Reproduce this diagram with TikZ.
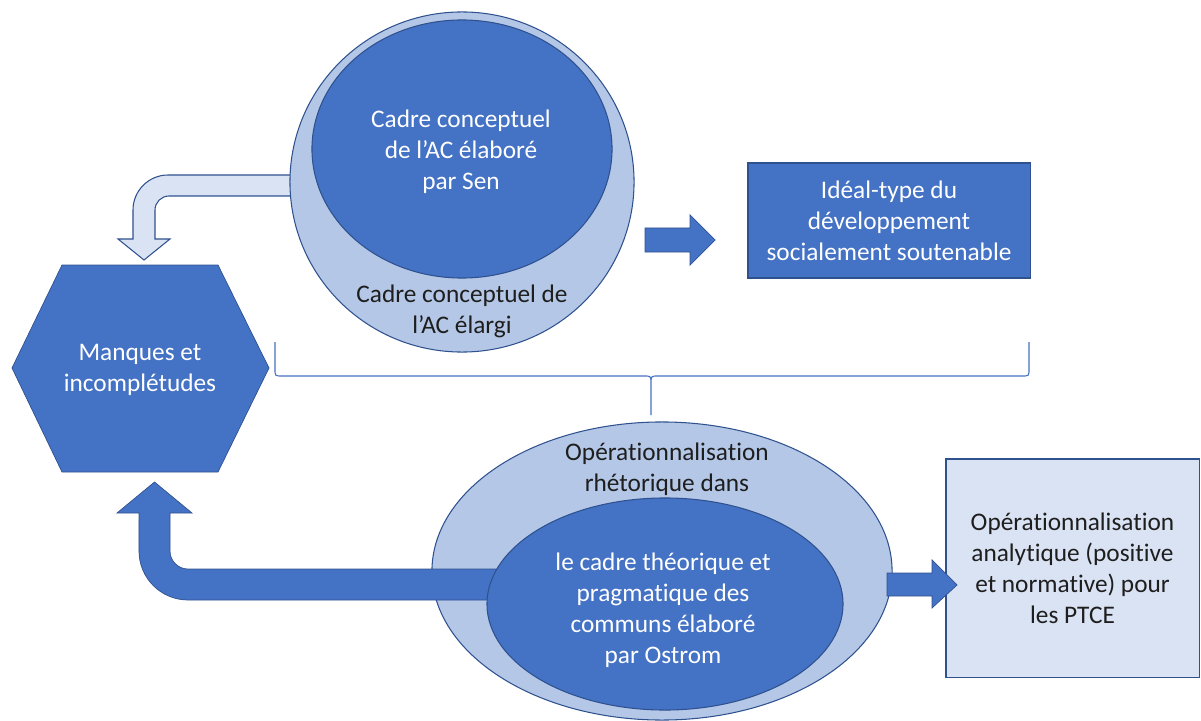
\documentclass[tikz,border=0pt]{standalone}
\usepackage{fontspec}
\setmainfont{Carlito}[Ligatures=NoCommon,Contextuals=NoAlternate]
\usetikzlibrary{shapes.geometric,positioning,calc}

\definecolor{accblue}{HTML}{4472C4}
\definecolor{lightblue}{HTML}{B4C7E7}
\definecolor{paleblue}{HTML}{DAE3F3}
\definecolor{edgeblue}{HTML}{2F528F}
\definecolor{inkdark}{HTML}{1E1E1E}

\begin{document}
\begin{tikzpicture}[x=0.025cm,y=-0.025cm,
    font=\fontsize{18}{22}\selectfont, line width=0.75pt,
    outerblob/.style={ellipse, draw=edgeblue, fill=lightblue, inner sep=0pt},
    innerblob/.style={ellipse, draw=edgeblue, fill=accblue, inner sep=0pt},
    whitetext/.style={align=center, text=white},
    darkbox/.style={rectangle, draw=edgeblue, fill=accblue, text=white, align=center},
    palebox/.style={rectangle, draw=edgeblue, fill=paleblue, text=inkdark, align=center},
    label/.style={align=center, text=inkdark},
    bigarrow/.style={fill=accblue, draw=edgeblue, line width=0.5pt},
    softarrow/.style={fill=paleblue, draw=edgeblue, line width=0.75pt},
    bracket/.style={draw=accblue, line width=0.8pt}]
  \useasboundingbox (0,0) rectangle (1201,721);

  % feedback from Sen to the gaps
  \draw[softarrow] (300,175) -- (168,175) arc[start angle=90,end angle=180,radius=0.875cm]
    -- (133,239) -- (118,239) -- (144,260) -- (170,239) -- (155,239) -- (155,210)
    arc[start angle=180,end angle=90,radius=0.35cm] -- (300,196) -- cycle;

  % capability approach, top
  \node[outerblob, minimum width=8.6cm, minimum height=8.5cm] (sen_out) at (462,182) {};
  \node[innerblob, minimum width=7.5cm, minimum height=6.45cm] (sen_in) at (462,149) {};
  \node[whitetext] (sen_txt_in) at (461,152) {Cadre conceptuel\\de l’AC élaboré\\par Sen};
  \node[label] (sen_txt) at (462,311) {Cadre conceptuel de\\l’AC élargi};

  \node[darkbox, minimum width=7.05cm, minimum height=2.875cm] (ideal) at (889,220.5)
    {Idéal-type du\\développement\\socialement soutenable};
  \draw[bigarrow] (645,228) -- (690,228) -- (690,215) -- (715,240) -- (690,265)
    -- (690,252) -- (645,252) -- cycle;

  % gaps
  \draw[fill=accblue, draw=edgeblue, line width=0.5pt]
    (12,368) -- (62,265) -- (218,265) -- (269,368) -- (218,472) -- (62,472) -- cycle;
  \node[whitetext] (gaps) at (140,370) {Manques et\\incomplétudes};

  % brace
  \coordinate (br_l) at (275,342);
  \coordinate (br_r) at (1029,342);
  \coordinate (br_tip) at (651,415);
  \draw[bracket] (br_l) -- (275,369) .. controls (275,376) .. (282,376) -- (644,376)
    .. controls (651,376) .. (651,384) -- (br_tip)
    (651,384) .. controls (651,376) .. (658,376) -- (1022,376)
    .. controls (1029,376) .. (1029,369) -- (br_r);

  % commons, bottom
  \node[outerblob, minimum width=11.5cm, minimum height=7.45cm] (ost_out) at (662,571) {};
  \node[label] (ost_txt) at (667,469) {Opérationnalisation\\rhétorique dans};
  \draw[bigarrow] (520,600) -- (188,600) arc[start angle=270,end angle=180,radius=1.225cm]
    -- (139,513) -- (117,513) -- (154.5,482) -- (192,513) -- (170,513) -- (170,551)
    arc[start angle=180,end angle=270,radius=0.45cm] -- (520,569) -- cycle;
  \node[innerblob, minimum width=8.9cm, minimum height=5.3cm] (ost_in) at (665,604) {};
  \node[whitetext] (ost_txt_in) at (663,610)
    {le cadre théorique et\\pragmatique des\\communs élaboré\\par Ostrom};

  \node[palebox, minimum width=6.325cm, minimum height=5.45cm] (ptce) at (1072.5,568)
    {Opérationnalisation\\analytique (positive\\et normative) pour\\les PTCE};
  \draw[bigarrow] (887,573) -- (932,573) -- (932,560) -- (957,585) -- (932,608)
    -- (932,596) -- (887,596) -- cycle;
\end{tikzpicture}
\end{document}
